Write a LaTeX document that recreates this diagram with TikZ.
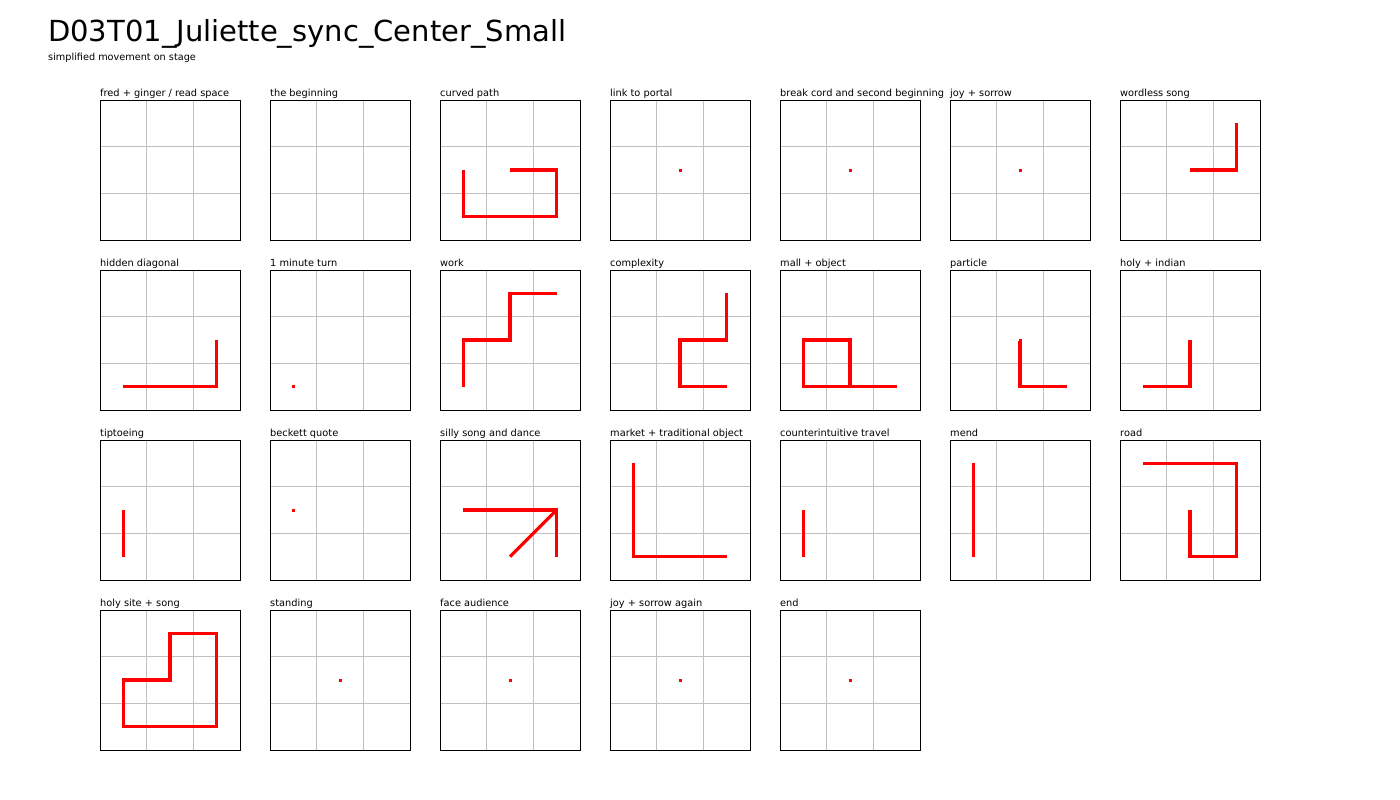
\documentclass[tikz,border=0pt]{standalone}
\usepackage{fontspec}
\setmainfont{DejaVu Sans}
\tikzset{
  panelbox/.style={draw=black, line width=1pt, minimum width=140pt, minimum height=140pt, inner sep=0pt, outer sep=0pt},
  gridline/.style={draw={rgb,255:red,192;green,192;blue,192}, line width=1pt},
  plabel/.style={anchor=base west, inner sep=0pt, font=\fontsize{9.8}{11}\selectfont},
  move/.style={draw=red, line width=3.2pt, line join=miter, line cap=butt},
  spot/.style={rectangle, fill=red, minimum size=3pt, inner sep=0pt},
}
\newcommand\stagepanel[5]{%
  \begin{scope}[shift={(#2,#3)}, x=46.667pt, y=-46.667pt]
    \draw[gridline] (1,0) -- (1,3) (2,0) -- (2,3) (0,1) -- (3,1) (0,2) -- (3,2);
    \node[panelbox] (#1) at (1.5,1.5) {};
    #5
  \end{scope}
  \node[plabel] (#1-label) at (#2,#3-4) {#4};
}
\begin{document}
\begin{tikzpicture}[x=1pt, y=-1pt]
\useasboundingbox (0,0) rectangle (1400,800);
\fill[white] (0,0) rectangle (1400,800);
\node[anchor=base west, inner sep=0pt, font=\fontsize{29}{34}\selectfont] (title) at (48,42) {D03T01\_Juliette\_sync\_Center\_Small};
\node[anchor=base west, inner sep=0pt, font=\fontsize{9.7}{11}\selectfont] (subtitle) at (48,60) {simplified movement on stage};
% Row 1
\stagepanel{p1}{100}{100}{fred + ginger / read space}{}
\stagepanel{p2}{270}{100}{the beginning}{}
\stagepanel{p3}{440}{100}{curved path}{\draw[move] (0.5,1.5) -- (0.5,2.5) -- (2.5,2.5) -- (2.5,1.5) -- (1.5,1.5);}
\stagepanel{p4}{610}{100}{link to portal}{\node[spot] (p4-d) at (1.5,1.5) {};}
\stagepanel{p5}{780}{100}{break cord and second beginning}{\node[spot] (p5-d) at (1.5,1.5) {};}
\stagepanel{p6}{950}{100}{joy + sorrow}{\node[spot] (p6-d) at (1.5,1.5) {};}
\stagepanel{p7}{1120}{100}{wordless song}{\draw[move] (1.5,1.5) -- (2.5,1.5) -- (2.5,0.5);}
% Row 2
\stagepanel{p8}{100}{270}{hidden diagonal}{\draw[move] (0.5,2.5) -- (2.5,2.5) -- (2.5,1.5);}
\stagepanel{p9}{270}{270}{1 minute turn}{\node[spot] (p9-d) at (0.5,2.5) {};}
\stagepanel{p10}{440}{270}{work}{\draw[move] (0.5,2.5) -- (0.5,1.5) -- (1.5,1.5) -- (1.5,0.5) -- (2.5,0.5);}
\stagepanel{p11}{610}{270}{complexity}{\draw[move] (2.5,0.5) -- (2.5,1.5) -- (1.5,1.5) -- (1.5,2.5) -- (2.5,2.5);}
\stagepanel{p12}{780}{270}{mall + object}{\draw[move] (2.5,2.5) -- (0.5,2.5) -- (0.5,1.5) -- (1.5,1.5) -- (1.5,2.5);}
\stagepanel{p13}{950}{270}{particle}{\draw[move] (1.5,1.53) -- (1.5,2.5) -- (2.5,2.5); \node[spot, minimum height=1.5pt] (p13-d) at (1.5,1.5) {};}
\stagepanel{p14}{1120}{270}{holy + indian}{\draw[move] (0.5,2.5) -- (1.5,2.5) -- (1.5,1.5);}
% Row 3
\stagepanel{p15}{100}{440}{tiptoeing}{\draw[move] (0.5,1.5) -- (0.5,2.5);}
\stagepanel{p16}{270}{440}{beckett quote}{\node[spot] (p16-d) at (0.5,1.5) {};}
\stagepanel{p17}{440}{440}{silly song and dance}{\draw[move] (0.5,1.5) -- (2.5,1.5) -- (2.5,2.5); \draw[move] (1.5,2.5) -- (2.5,1.5);}
\stagepanel{p18}{610}{440}{market + traditional object}{\draw[move] (0.5,0.5) -- (0.5,2.5) -- (2.5,2.5);}
\stagepanel{p19}{780}{440}{counterintuitive travel}{\draw[move] (0.5,1.5) -- (0.5,2.5);}
\stagepanel{p20}{950}{440}{mend}{\draw[move] (0.5,0.5) -- (0.5,2.5);}
\stagepanel{p21}{1120}{440}{road}{\draw[move] (0.5,0.5) -- (2.5,0.5) -- (2.5,2.5) -- (1.5,2.5) -- (1.5,1.5);}
% Row 4
\stagepanel{p22}{100}{610}{holy site + song}{\draw[move] (0.5,1.5) -- (1.5,1.5) -- (1.5,0.5) -- (2.5,0.5) -- (2.5,2.5) -- (0.5,2.5) -- cycle;}
\stagepanel{p23}{270}{610}{standing}{\node[spot] (p23-d) at (1.5,1.5) {};}
\stagepanel{p24}{440}{610}{face audience}{\node[spot] (p24-d) at (1.5,1.5) {};}
\stagepanel{p25}{610}{610}{joy + sorrow again}{\node[spot] (p25-d) at (1.5,1.5) {};}
\stagepanel{p26}{780}{610}{end}{\node[spot] (p26-d) at (1.5,1.5) {};}
\end{tikzpicture}
\end{document}
